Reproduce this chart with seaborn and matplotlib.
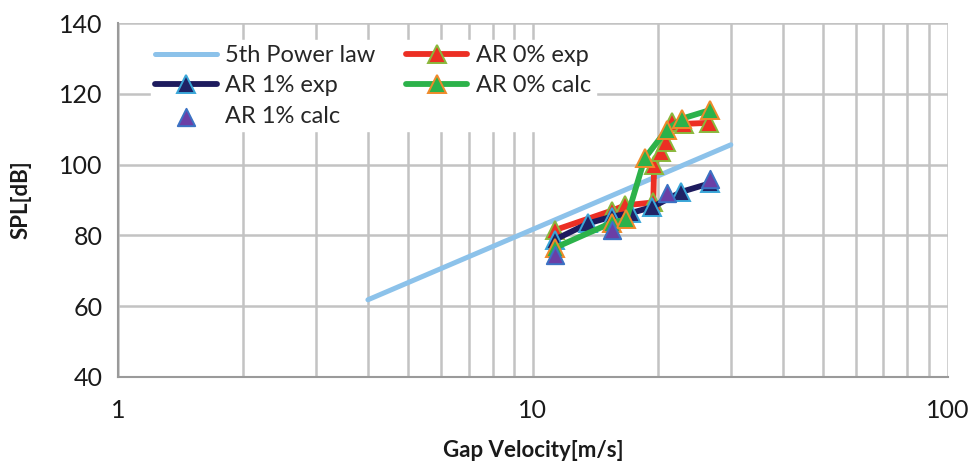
import matplotlib
matplotlib.use("Agg")
import matplotlib.pyplot as plt
from matplotlib.ticker import FixedLocator, NullFormatter, FixedFormatter
import numpy as np
import pandas as pd
import seaborn as sns

# 5th power law reference line
power_v = [4.0, 30.0]
power_spl = [61.8, 105.6]

# AR 0% measured
ar0_exp_v = [11.3, 15.5, 16.7, 19.5, 19.6, 20.4, 20.9, 21.6, 23.1, 26.6]
ar0_exp_spl = [81.5, 87.0, 88.5, 89.3, 100.0, 103.6, 106.3, 112.0, 111.5, 111.8]

# AR 1% measured
ar1_exp_v = [11.3, 13.6, 15.5, 17.2, 19.4, 22.8, 26.7]
ar1_exp_spl = [78.8, 83.4, 85.3, 86.3, 88.0, 92.3, 94.7]

# AR 0% calculated
ar0_calc_v = [11.3, 15.5, 16.8, 18.6, 21.0, 22.9, 26.7]
ar0_calc_spl = [76.5, 83.6, 84.5, 101.8, 109.8, 113.0, 115.4]

# AR 1% calculated
ar1_calc_v = [11.3, 15.5, 21.0, 26.7]
ar1_calc_spl = [74.5, 81.5, 91.9, 96.0]

y_ticks = [40, 60, 80, 100, 120, 140]
x_ticks = [1, 10, 100]
x_tick_labels = ["1", "10", "100"]

sns.set_theme(style="white")
plt.rcParams["font.family"] = ["Lato", "DejaVu Sans"]

fig = plt.figure(figsize=(9.69, 4.70), dpi=100)
ax = fig.add_axes([0.122, 0.198, 0.856, 0.753])

grid_c = "#c3c3c3"
ms = 12.5

def frame(v, s):
    return pd.DataFrame({"v": v, "spl": s})

sns.lineplot(data=frame(power_v, power_spl), x="v", y="spl", ax=ax,
             color="#8cc2ea", linewidth=3.6, label="5th Power law", zorder=3)
sns.lineplot(data=frame(ar0_exp_v, ar0_exp_spl), x="v", y="spl", ax=ax,
             color="#ec2f24", linewidth=4.2, marker="^", markersize=ms,
             markerfacecolor="#ec2f24", markeredgecolor="#8ab83c",
             markeredgewidth=1.4, label="AR 0% exp", zorder=4, sort=False)
sns.lineplot(data=frame(ar1_exp_v, ar1_exp_spl), x="v", y="spl", ax=ax,
             color="#1d1b5e", linewidth=4.2, marker="^", markersize=ms,
             markerfacecolor="#1f2366", markeredgecolor="#3aa6d8",
             markeredgewidth=1.4, label="AR 1% exp", zorder=5, sort=False)
sns.lineplot(data=frame(ar0_calc_v, ar0_calc_spl), x="v", y="spl", ax=ax,
             color="#2cb24a", linewidth=4.2, marker="^", markersize=ms,
             markerfacecolor="#2cb24a", markeredgecolor="#f08a2a",
             markeredgewidth=1.4, label="AR 0% calc", zorder=6, sort=False)
sns.scatterplot(data=frame(ar1_calc_v, ar1_calc_spl), x="v", y="spl", ax=ax,
                color="#6b3fa6", marker="^", s=ms ** 2, edgecolor="#3b72c4",
                linewidth=1.4, label="AR 1% calc", zorder=7)

ax.set_xscale("log")
ax.set_xlim(1, 100)
ax.set_ylim(40, 140)

ax.xaxis.set_major_locator(FixedLocator(x_ticks))
ax.xaxis.set_major_formatter(FixedFormatter(x_tick_labels))
minor = [m * d for d in (1, 10) for m in range(2, 10)]
ax.xaxis.set_minor_locator(FixedLocator(minor))
ax.xaxis.set_minor_formatter(NullFormatter())
ax.set_yticks(y_ticks)

ax.grid(True, which="major", axis="both", color=grid_c, linewidth=1.8, zorder=0)
ax.grid(True, which="minor", axis="x", color=grid_c, linewidth=1.8, zorder=0)
ax.set_axisbelow(True)

for side in ("top", "right"):
    ax.spines[side].set_visible(False)
for side in ("left", "bottom"):
    ax.spines[side].set_color("#9a9a9a")
    ax.spines[side].set_linewidth(1.5)

ax.tick_params(axis="both", which="major", labelsize=18, colors="#9a9a9a",
               labelcolor="#1a1a1a", length=6, width=1.2, direction="out")
ax.tick_params(axis="x", which="major", pad=10)
ax.tick_params(axis="y", which="major", pad=5)
ax.tick_params(axis="x", which="minor", length=0)

ax.set_xlabel("Gap Velocity[m/s]", fontsize=16, fontweight="bold",
              color="#1a1a1a", labelpad=13)
ax.set_ylabel("SPL[dB]", fontsize=16, fontweight="bold", color="#1a1a1a",
              labelpad=20)

handles, labels = ax.get_legend_handles_labels()
order = ["5th Power law", "AR 1% exp", "AR 1% calc", "AR 0% exp", "AR 0% calc"]
hmap = dict(zip(labels, handles))
leg = ax.legend([hmap[k] for k in order], order, ncol=2, loc="upper left",
                bbox_to_anchor=(0.025, 0.985), frameon=True, facecolor="white",
                edgecolor="white", framealpha=1.0, fontsize=17,
                handlelength=2.6, columnspacing=1.3, labelspacing=0.4,
                handletextpad=0.35, borderpad=0.2)
leg.set_zorder(10)

fig.savefig("out.png", dpi=100)
